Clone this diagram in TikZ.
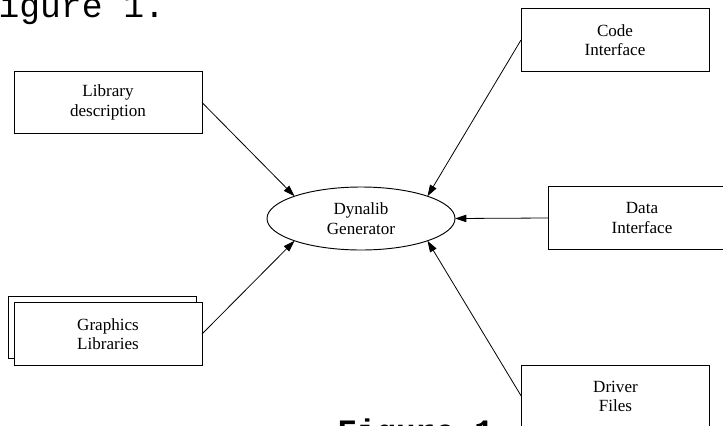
\documentclass[tikz,border=0pt]{standalone}
\usepackage{fontspec}
\setmainfont{Liberation Serif}
\newfontfamily\courierfont{Liberation Mono}
\usetikzlibrary{shapes.geometric,arrows.meta}

\begin{document}
\begin{tikzpicture}[
        x=0.75pt, y=-0.75pt,
        box/.style={rectangle, draw, fill=white, line width=0.7pt, minimum width=141pt, minimum height=47pt, inner sep=0pt, outer sep=0pt, align=center, font=\fontsize{12.8}{14.5}\selectfont},
        oval/.style={ellipse, draw, line width=0.7pt, minimum width=141pt, minimum height=47.25pt, inner sep=0pt, outer sep=0pt, align=center, font=\fontsize{12.8}{14.5}\selectfont},
        caption/.style={anchor=base west, inner sep=0pt, font=\courierfont\fontsize{26}{28}\selectfont},
        arrow/.style={-{Triangle[length=8.5pt, width=5.5pt]}, line width=0.6pt}
    ]
        \useasboundingbox (0,0) rectangle (723,425);
        \clip (0,0) rectangle (723,425);

        % Captions
        \node[caption] (captop) at (-22.5,17.5) {Figure 1.};
        \node[caption, font=\courierfont\bfseries\fontsize{24.5}{26}\selectfont] (capbottom) at (337,442) {Figure 1};

        % Nodes
        \node[oval] (gen) at (361,218.5) {Dynalib\\Generator};
        \node[box] (lib) at (108,102.5) {Library\\description};
        \node[box] (gfxback) at (102,327.5) {};
        \node[box] (gfx) at (108,334) {Graphics\\Libraries};
        \node[box] (code) at (615,40) {Code\\Interface};
        \node[box] (data) at (642,218) {Data\\Interface};
        \node[box] (driver) at (615.5,396.5) {Driver\\Files};

        % Arrows
        \draw[arrow] (lib.east) -- (gen.north west);
        \draw[arrow] (gfx.east) -- (gen.south west);
        \draw[arrow] (code.west) -- (gen.north east);
        \draw[arrow] (data.west) -- (gen.east);
        \draw[arrow] (driver.west) -- (gen.south east);
    \end{tikzpicture}
\end{document}
